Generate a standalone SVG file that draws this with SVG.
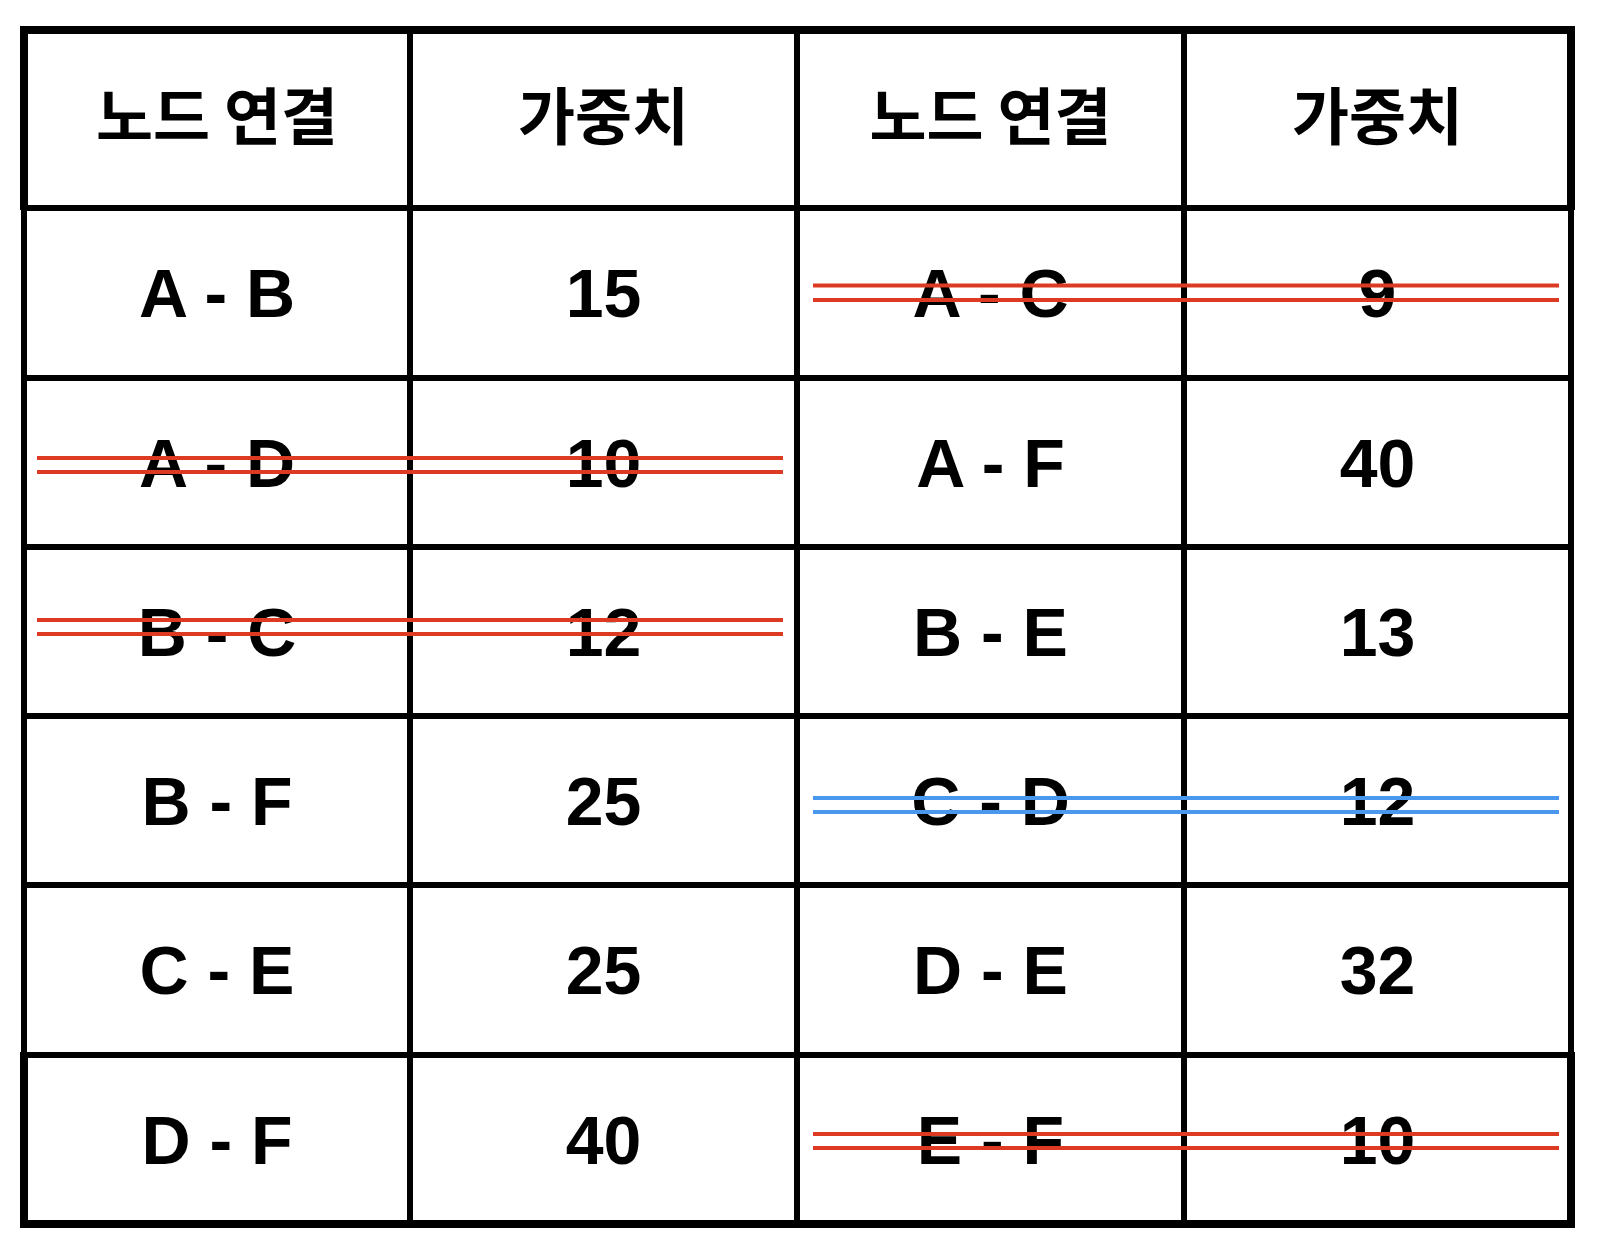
<svg xmlns="http://www.w3.org/2000/svg" width="1602" height="1252" viewBox="0 0 1602 1252">
<style>
.grid{stroke:#000;stroke-width:6;fill:none}
.thick{stroke:#000;stroke-width:8;fill:none}
.hd{font-family:"Noto Sans CJK KR","Liberation Sans",sans-serif;font-weight:700;font-size:62px;fill:#000;text-anchor:middle}
.cell{font-family:"Liberation Sans","Arial",sans-serif;font-weight:700;font-size:68px;fill:#000;text-anchor:middle}
.red{stroke:#dc3a22;stroke-width:4}
.blue{stroke:#4a98ee;stroke-width:4}
</style>
<rect width="1602" height="1252" fill="#fff"/>
<g id="grid">
<g class="grid">
<line x1="24" y1="208" x2="1571" y2="208"/>
<line x1="24" y1="378" x2="1571" y2="378"/>
<line x1="24" y1="547" x2="1571" y2="547"/>
<line x1="24" y1="716" x2="1571" y2="716"/>
<line x1="24" y1="885" x2="1571" y2="885"/>
<line x1="24" y1="1055" x2="1571" y2="1055"/>
<line x1="24" y1="30" x2="24" y2="1224"/>
<line x1="410" y1="30" x2="410" y2="1224"/>
<line x1="797" y1="30" x2="797" y2="1224"/>
<line x1="1184" y1="30" x2="1184" y2="1224"/>
<line x1="1571" y1="30" x2="1571" y2="1224"/>
</g>
<g class="thick">
<line x1="20" y1="30" x2="1575" y2="30"/>
<line x1="24" y1="26" x2="24" y2="210"/>
<line x1="1571" y1="26" x2="1571" y2="210"/>
<line x1="24" y1="1052" x2="24" y2="1228"/>
<line x1="1571" y1="1052" x2="1571" y2="1228"/>
<line x1="20" y1="1224" x2="1575" y2="1224"/>
</g>
</g>
<g id="header">
<text class="hd" x="217" y="140">노드 연결</text>
<text class="hd" x="603.5" y="140">가중치</text>
<text class="hd" x="990.5" y="140">노드 연결</text>
<text class="hd" x="1377.5" y="140">가중치</text>
</g>
<g id="row1">
<text class="cell" x="217" y="317">A - B</text>
<text class="cell" x="603.5" y="317">15</text>
<text class="cell" x="990.5" y="317">A - C</text>
<text class="cell" x="1377.5" y="317">9</text>
</g>
<g id="row2">
<text class="cell" x="217" y="487">A - D</text>
<text class="cell" x="603.5" y="487">10</text>
<text class="cell" x="990.5" y="487">A - F</text>
<text class="cell" x="1377.5" y="487">40</text>
</g>
<g id="row3">
<text class="cell" x="217" y="656">B - C</text>
<text class="cell" x="603.5" y="656">12</text>
<text class="cell" x="990.5" y="656">B - E</text>
<text class="cell" x="1377.5" y="656">13</text>
</g>
<g id="row4">
<text class="cell" x="217" y="825">B - F</text>
<text class="cell" x="603.5" y="825">25</text>
<text class="cell" x="990.5" y="825">C - D</text>
<text class="cell" x="1377.5" y="825">12</text>
</g>
<g id="row5">
<text class="cell" x="217" y="994">C - E</text>
<text class="cell" x="603.5" y="994">25</text>
<text class="cell" x="990.5" y="994">D - E</text>
<text class="cell" x="1377.5" y="994">32</text>
</g>
<g id="row6">
<text class="cell" x="217" y="1164">D - F</text>
<text class="cell" x="603.5" y="1164">40</text>
<text class="cell" x="990.5" y="1164">E - F</text>
<text class="cell" x="1377.5" y="1164">10</text>
</g>
<g id="strikes">
<line class="red" x1="813" y1="285.5" x2="1559" y2="285.5"/>
<line class="red" x1="813" y1="300" x2="1559" y2="300"/>
<line class="red" x1="37" y1="458" x2="783" y2="458"/>
<line class="red" x1="37" y1="472" x2="783" y2="472"/>
<line class="red" x1="37" y1="620" x2="783" y2="620"/>
<line class="red" x1="37" y1="634" x2="783" y2="634"/>
<line class="blue" x1="813" y1="798" x2="1559" y2="798"/>
<line class="blue" x1="813" y1="812" x2="1559" y2="812"/>
<line class="red" x1="813" y1="1134" x2="1559" y2="1134"/>
<line class="red" x1="813" y1="1148" x2="1559" y2="1148"/>
</g>
</svg>
